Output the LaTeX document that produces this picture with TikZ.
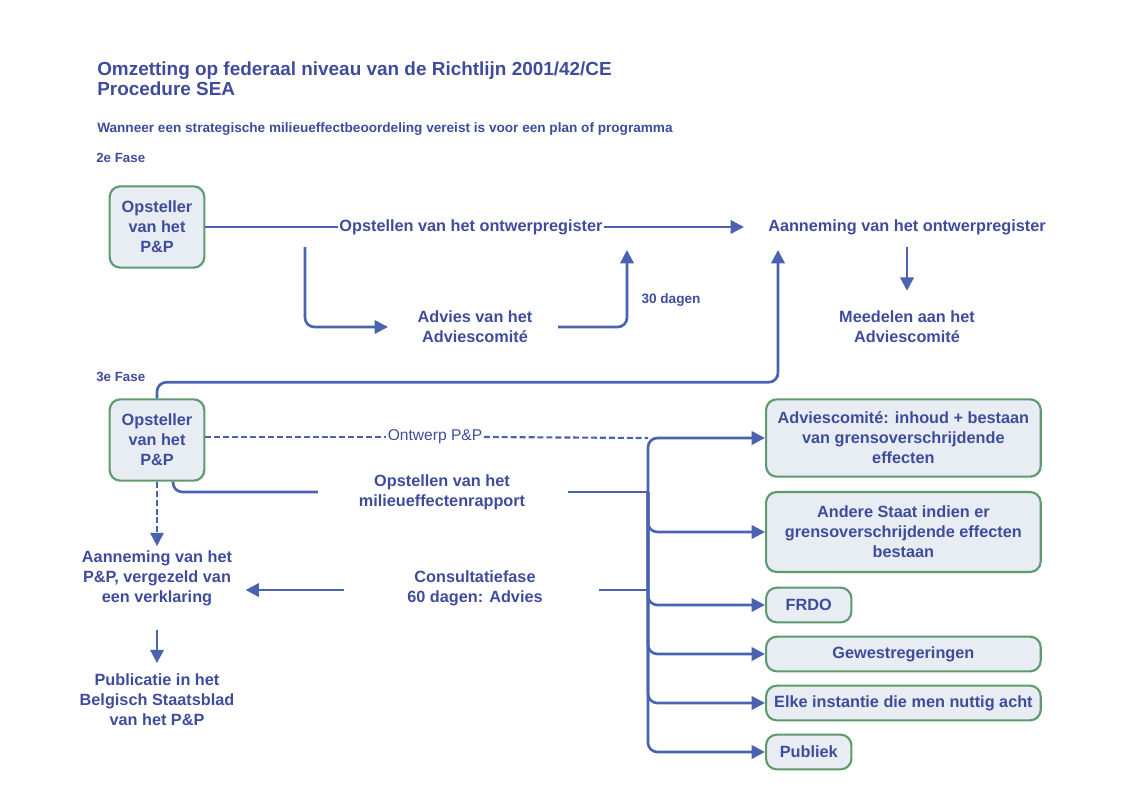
\documentclass[tikz,border=0pt]{standalone}
\usepackage{fontspec}
\setmainfont{Liberation Sans}
\usepackage{tikz}
\usetikzlibrary{arrows.meta, calc}
\usepackage{xcolor}

\definecolor{ink}{HTML}{3F4C9C}
\definecolor{flow}{HTML}{4B62B0}
\definecolor{rim}{HTML}{5E9A6E}
\definecolor{pane}{HTML}{E8ECF3}

\tikzset{
    actor/.style={draw=rim, fill=pane, line width=1.6pt, rounded corners=8pt,
        align=center, inner sep=2pt},
    flowline/.style={draw=flow, line width=2pt},
    dashline/.style={draw=flow, line width=1.6pt, dash pattern=on 4.5pt off 2.2pt},
    tip/.style={-{Triangle[length=10pt, width=10pt]}},
    txt/.style={align=center, inner sep=2pt}
}

\begin{document}
\begin{tikzpicture}[x=0.75pt, y=-0.75pt, text=ink, line join=round,
    font=\bfseries\fontsize{12.2}{15}\selectfont]

    \useasboundingbox (0,0) rectangle (1132,796);

    % Heading (pixel grid of the page, y running down)
    \node[anchor=west, align=left, inner sep=0pt,
        font=\bfseries\fontsize{14.2}{15}\selectfont] (title) at (97,79)
        {Omzetting op federaal niveau van de Richtlijn 2001/42/CE\\Procedure SEA};
    \node[anchor=west, inner sep=0pt, font=\bfseries\fontsize{10.2}{12}\selectfont]
        (scope) at (97,129)
        {Wanneer een strategische milieueffectbeoordeling vereist is voor een plan of programma};
    \node[anchor=west, inner sep=0pt, font=\bfseries\fontsize{10}{12}\selectfont]
        (fase2) at (96,158) {2e Fase};
    \node[anchor=west, inner sep=0pt, font=\bfseries\fontsize{10}{12}\selectfont]
        (fase3) at (96,377) {3e Fase};

    % 2e Fase
    \node[actor, minimum width=71pt, minimum height=61pt] (opst1) at (157,227)
        {Opsteller\\van het\\P\&P};
    \node[txt, inner sep=1pt] (ontw) at (471,227) {Opstellen van het ontwerpregister};
    \node[txt] (aann) at (907,227) {Aanneming van het ontwerpregister};
    \node[txt] (advies) at (475,327) {Advies van het\\Adviescomité};
    \node[txt, font=\bfseries\fontsize{10.2}{12}\selectfont] (dagen) at (671,300) {30 dagen};
    \node[txt] (meed) at (907,327) {Meedelen aan het\\Adviescomité};

    \coordinate (split) at (305,247);
    \coordinate (back)  at (627,250);
    \coordinate (up)    at (778,250);

    \draw[flowline] (opst1.east) -- (ontw.west);
    \draw[flowline, tip, shorten >=16pt] (ontw.east) -- (aann.west);
    \draw[flowline, tip, rounded corners=7pt, shorten >=20pt] (split) |- (advies.west);
    \draw[flowline, tip, rounded corners=7pt, shorten <=17pt] (advies.east) -| (back);
    \draw[flowline, tip, shorten <=7pt, shorten >=13pt] (aann.south) -- (meed.north);

    % 3e Fase
    \node[actor, minimum width=71pt, minimum height=61pt] (opst2) at (157,440)
        {Opsteller\\van het\\P\&P};
    \node[txt, inner sep=1pt, font=\mdseries\fontsize{11.7}{14}\selectfont] (ontwpp)
        at (435,437) {Ontwerp P\&P};
    \node[txt] (mer) at (442,492) {Opstellen van het\\milieueffectenrapport};
    \node[txt] (aannpp) at (157,578) {Aanneming van het\\P\&P, vergezeld van\\een verklaring};
    \node[txt] (cons) at (475,588) {Consultatiefase\\60 dagen: Advies};
    \node[txt] (publ) at (157,700) {Publicatie in het\\Belgisch Staatsblad\\van het P\&P};

    % Adressees of the consultation
    \node[actor, anchor=west, minimum width=206pt, minimum height=58pt] (adv) at (765,438)
        {Adviescomité: inhoud + bestaan\\van grensoverschrijdende\\effecten};
    \node[actor, anchor=west, minimum width=206pt, minimum height=60pt] (andere) at (765,532)
        {Andere Staat indien er\\grensoverschrijdende effecten\\bestaan};
    \node[actor, anchor=west, minimum width=64pt, minimum height=26pt] (frdo) at (765,605) {FRDO};
    \node[actor, anchor=west, minimum width=206pt, minimum height=26pt] (gew) at (765,654)
        {Gewestregeringen};
    \node[actor, anchor=west, minimum width=206pt, minimum height=26pt] (elke) at (765,703)
        {Elke instantie die men nuttig acht};
    \node[actor, anchor=west, minimum width=64pt, minimum height=26pt] (publiek) at (765,752)
        {Publiek};

    \coordinate (trunk) at (648,492);

    \draw[flowline, tip, rounded corners=7pt] (opst2.north) -- ++(0,-16) -| (up);
    \draw[dashline] (opst2.east |- ontwpp) -- (ontwpp.west);
    \draw[dashline] (ontwpp.east) -- (trunk |- adv.west);
    \draw[flowline, shorten <=30pt] (mer.east) -- (trunk);
    \draw[flowline, tip, rounded corners=7pt] (trunk) |- (adv.west);
    \draw[flowline, rounded corners=7pt] ($(opst2.south)+(16,0)$) |- ($(mer.west)+(-38,0)$);
    \draw[dashline, tip, shorten >=1pt] (opst2.south) -- (aannpp.north);
    \foreach \dest in {andere, frdo, gew, elke, publiek}
        \draw[flowline, tip, rounded corners=7pt] (trunk) |- (\dest.west);
    \draw[flowline, shorten <=40pt] ($(cons.east)+(0,2)$) -- (trunk |- 0,590);
    \draw[flowline, tip, shorten <=45pt, shorten >=8pt] ($(cons.west)+(0,2)$)
        -- (aannpp.east |- 0,590);
    \draw[flowline, tip, shorten <=16pt, shorten >=6pt] (aannpp.south) -- (publ.north);

\end{tikzpicture}
\end{document}
